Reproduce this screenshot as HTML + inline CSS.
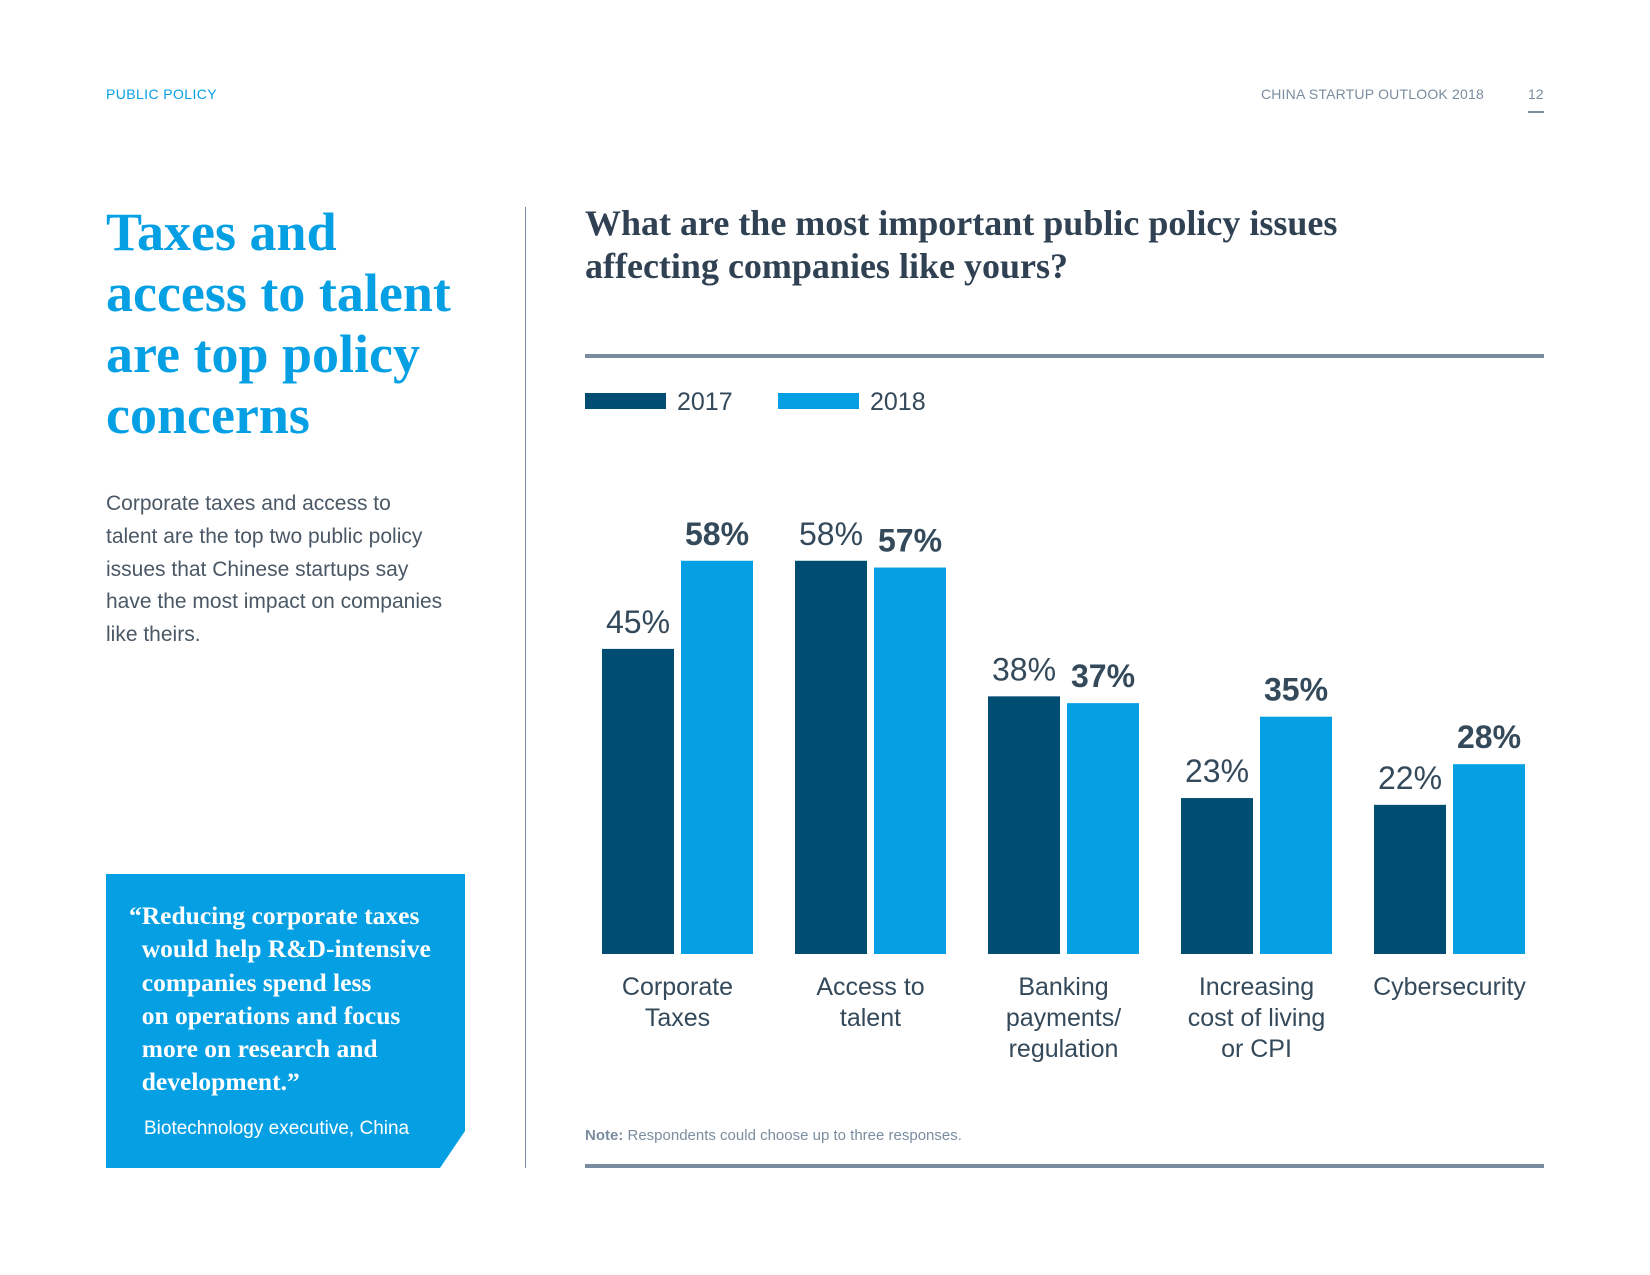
<!DOCTYPE html>
<html><head><meta charset="utf-8">
<style>
body{margin:0;background:#fff;}
#page{position:relative;width:1650px;height:1275px;overflow:hidden;font-family:"Liberation Sans",sans-serif;}
.abs{position:absolute;margin:0;white-space:nowrap;}
</style></head>
<body>
<div id="page">
<div class="abs" style="left:106px;top:86px;font-size:14px;color:#05a0e4;letter-spacing:0.4px;">PUBLIC POLICY</div>
<div class="abs" style="left:1260px;top:86px;width:224px;text-align:right;font-size:14px;color:#7a8da0;letter-spacing:0.2px;">CHINA STARTUP OUTLOOK 2018</div>
<div class="abs" style="left:1528px;top:86px;font-size:14px;color:#7a8da0;">12</div>
<div class="abs" style="left:1528px;top:111px;width:16px;height:2px;background:#7a8da0;"></div>

<div class="abs" style="left:106px;top:202px;font-family:'Liberation Serif',serif;font-weight:bold;font-size:54px;line-height:61px;color:#05a0e4;white-space:normal;width:420px;">Taxes and<br>access to talent<br>are top policy<br>concerns</div>

<div class="abs" style="left:106px;top:488px;font-size:21px;line-height:32.8px;color:#4a5866;">Corporate taxes and access to<br>talent are the top two public policy<br>issues that Chinese startups say<br>have the most impact on companies<br>like theirs.</div>

<svg class="abs" style="left:106px;top:874px;" width="360" height="295"><polygon points="0,0 359,0 359,257 334,294 0,294" fill="#05a0e4"/></svg>
<div class="abs" style="left:129px;top:899px;font-family:'Liberation Serif',serif;font-weight:bold;font-size:25.5px;line-height:33.3px;color:#fff;">“Reducing corporate taxes<br>&nbsp;&nbsp;would help R&amp;D-intensive<br>&nbsp;&nbsp;companies spend less<br>&nbsp;&nbsp;on operations and focus<br>&nbsp;&nbsp;more on research and<br>&nbsp;&nbsp;development.”</div>
<div class="abs" style="left:144px;top:1118px;font-size:19px;color:#fff;">Biotechnology executive, China</div>

<div class="abs" style="left:525px;top:207px;width:1px;height:961px;background:#7a8da0;"></div>

<div class="abs" style="left:585px;top:202px;font-family:'Liberation Serif',serif;font-weight:bold;font-size:36px;line-height:43px;color:#2f4152;">What are the most important public policy issues<br>affecting companies like yours?</div>
<div class="abs" style="left:585px;top:354px;width:959px;height:4px;background:#7a8da0;"></div>

<svg class="abs" style="left:0;top:0;" width="1650" height="1275" id="chart"></svg>

<div class="abs" style="left:585px;top:1127px;font-size:15px;color:#7a8da0;"><b>Note:</b> Respondents could choose up to three responses.</div>
<div class="abs" style="left:585px;top:1164px;width:959px;height:4px;background:#7a8da0;"></div>
</div>
<script>
const categories=[["Corporate","Taxes"],["Access to","talent"],["Banking","payments/","regulation"],["Increasing","cost of living","or CPI"],["Cybersecurity"]];
const values2017=[45,58,38,23,22];
const values2018=[58,57,37,35,28];
const seriesNames=["2017","2018"];
const NS="http://www.w3.org/2000/svg";
const svg=document.getElementById('chart');
const baseY=954, pxPer=6.78, x0=602, groupStep=193, barW=72, gap=7;
const C1="#004d73", C2="#05a0e4", TXT="#34495a";
function y(v){return baseY-v*pxPer;}
function gx(i){return x0+i*groupStep;}
function mk(tag,attrs){const e=document.createElementNS(NS,tag);for(const k in attrs)e.setAttribute(k,attrs[k]);svg.appendChild(e);return e;}
const lg=[[585,C1],[778,C2]];
seriesNames.forEach((s,i)=>{
  const r=mk('rect',{x:lg[i][0],y:393,width:81,height:16,fill:lg[i][1]});
  
  
  const t=mk('text',{x:lg[i][0]+92,y:410,'font-size':25,fill:TXT,'font-family':'Liberation Sans, sans-serif'});
  t.textContent=s;
  
  
});
categories.forEach((c,i)=>{
  const xa=gx(i), xb=gx(i)+barW+gap;
  const a=mk('rect',{x:xa,y:y(values2017[i]),width:barW,height:values2017[i]*pxPer,fill:C1});
  
  
  const b=mk('rect',{x:xb,y:y(values2018[i]),width:barW,height:values2018[i]*pxPer,fill:C2});
  
  
  const la=mk('text',{x:xa+barW/2,y:y(values2017[i])-16,'font-size':32,fill:TXT,'text-anchor':'middle','font-family':'Liberation Sans, sans-serif'});
  la.textContent=values2017[i]+'%';
  
  
  const lb=mk('text',{x:xb+barW/2,y:y(values2018[i])-16,'font-size':32,'font-weight':'bold',fill:TXT,'text-anchor':'middle','font-family':'Liberation Sans, sans-serif'});
  lb.textContent=values2018[i]+'%';
  
  
  c.forEach((line,j)=>{
    const t=mk('text',{x:xa+(2*barW+gap)/2,y:995+j*31,'font-size':25,fill:TXT,'text-anchor':'middle','font-family':'Liberation Sans, sans-serif'});
    t.textContent=line;
    
    
  });
});
</script>
</body></html>
